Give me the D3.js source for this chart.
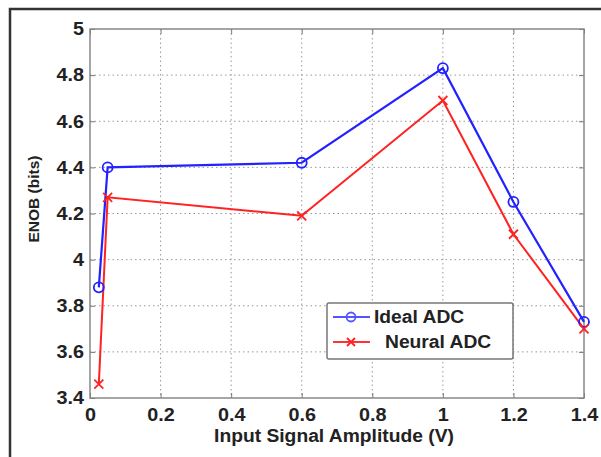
<!DOCTYPE html>
<html><head><meta charset="utf-8">
<script src="https://cdn.jsdelivr.net/npm/d3@7"></script>
<style>body{margin:0;background:#fff}svg{display:block}text{font-family:"Liberation Sans",Arial,sans-serif;font-weight:bold;fill:#222}</style>
</head><body>
<script>
const xValues = [0.025, 0.05, 0.6, 1.0, 1.2, 1.4];
const idealADC = [3.88, 4.40, 4.42, 4.83, 4.25, 3.73];
const neuralADC = [3.46, 4.27, 4.19, 4.69, 4.11, 3.70];
const xTicks = [0, 0.2, 0.4, 0.6, 0.8, 1, 1.2, 1.4];
const yTicks = [3.4, 3.6, 3.8, 4, 4.2, 4.4, 4.6, 4.8, 5];
const seriesNames = ["Ideal ADC", "Neural ADC"];

const W = 601, H = 457;
const L = 90, R = 584, T = 29, B = 398;
const svg = d3.select("body").append("svg").attr("width", W).attr("height", H);
// outer frame
svg.append("path").attr("d", `M10,${H} L10,9 L${W},9`).attr("fill","none").attr("stroke","#333").attr("stroke-width",2.5);

const x = d3.scaleLinear().domain([0, 1.4]).range([L, R]);
const y = d3.scaleLinear().domain([3.4, 5]).range([B, T]);

const stretch = (sel, k) => sel.each(function () {
  const len = this.getComputedTextLength();
  d3.select(this).attr("textLength", len * k).attr("lengthAdjust", "spacingAndGlyphs");
});

const g = svg.append("g");
// grid
g.selectAll(".vg").data(xTicks.slice(1, -1)).enter().append("line")
  .attr("x1", d => x(d)).attr("x2", d => x(d)).attr("y1", T).attr("y2", B)
  .attr("stroke", "#999").attr("stroke-width", 1).attr("stroke-dasharray", "1.5,3");
g.selectAll(".hg").data(yTicks.slice(1, -1)).enter().append("line")
  .attr("y1", d => y(d)).attr("y2", d => y(d)).attr("x1", L).attr("x2", R)
  .attr("stroke", "#999").attr("stroke-width", 1).attr("stroke-dasharray", "1.5,3");

// axes
const xAxis = d3.axisBottom(x).tickValues(xTicks).tickFormat(d3.format("")).tickSize(-5).tickPadding(10);
const yAxis = d3.axisLeft(y).tickValues(yTicks).tickFormat(d3.format("")).tickSize(-5).tickPadding(6);
const xa = svg.append("g").attr("transform", `translate(0,${B})`).call(xAxis);
const ya = svg.append("g").attr("transform", `translate(${L},0)`).call(yAxis);
[xa, ya].forEach(a => {
  a.select(".domain").remove();
  a.selectAll("line").attr("stroke", "#777");
  a.selectAll("text").style("font-size", "18px").attr("fill", "#222").call(stretch, 1.1);
});
// top and right ticks
svg.append("g").attr("transform", `translate(0,${T})`).call(d3.axisTop(x).tickValues(xTicks).tickSize(-5).tickFormat(""))
  .call(a => { a.select(".domain").remove(); a.selectAll("line").attr("stroke", "#777"); });
svg.append("g").attr("transform", `translate(${R},0)`).call(d3.axisRight(y).tickValues(yTicks).tickSize(-5).tickFormat(""))
  .call(a => { a.select(".domain").remove(); a.selectAll("line").attr("stroke", "#777"); });
// plot border
svg.append("rect").attr("x", L).attr("y", T).attr("width", R - L).attr("height", B - T)
  .attr("fill", "none").attr("stroke", "#888").attr("stroke-width", 1.5);

// labels
svg.append("text").attr("x", 334).attr("y", 442).attr("text-anchor", "middle")
  .style("font-size", "17.5px").text("Input Signal Amplitude (V)").call(stretch, 1.1);
svg.append("text").attr("transform", "translate(39,199) rotate(-90)").attr("text-anchor", "middle")
  .style("font-size", "15.5px").text("ENOB (bits)");

// series
const line = d3.line().x(d => x(d[0])).y(d => y(d[1]));
const ideal = xValues.map((v, i) => [v, idealADC[i]]);
const neural = xValues.map((v, i) => [v, neuralADC[i]]);
svg.append("path").datum(ideal).attr("d", line).attr("fill", "none").attr("stroke", "#2222ff").attr("stroke-width", 2.2);
svg.append("path").datum(neural).attr("d", line).attr("fill", "none").attr("stroke", "#ff2222").attr("stroke-width", 2);
svg.selectAll(".ci").data(ideal).enter().append("circle")
  .attr("cx", d => x(d[0])).attr("cy", d => y(d[1])).attr("r", 5)
  .attr("fill", "none").attr("stroke", "#2222ff").attr("stroke-width", 1.8);
const cross = (sel, cx, cy, s) => {
  sel.append("path").attr("d", `M${cx - s},${cy - s}L${cx + s},${cy + s}M${cx - s},${cy + s}L${cx + s},${cy - s}`)
    .attr("stroke", "#ff2222").attr("stroke-width", 1.8);
};
neural.forEach(d => cross(svg, x(d[0]), y(d[1]), 4.5));

// legend
const lg = svg.append("g");
lg.append("rect").attr("x", 327).attr("y", 303).attr("width", 186).attr("height", 56).attr("rx", 2)
  .attr("fill", "#fff").attr("stroke", "#777").attr("stroke-width", 1.5);
lg.append("line").attr("x1", 333).attr("x2", 370).attr("y1", 317).attr("y2", 317).attr("stroke", "#5555ff").attr("stroke-width", 2);
lg.append("circle").attr("cx", 351).attr("cy", 317).attr("r", 4.5).attr("fill", "none").attr("stroke", "#5555ff").attr("stroke-width", 1.8);
lg.append("line").attr("x1", 333).attr("x2", 370).attr("y1", 342).attr("y2", 342).attr("stroke", "#ff3333").attr("stroke-width", 2);
cross(lg, 351, 342, 4);
lg.append("text").attr("x", 374).attr("y", 323).style("font-size", "17.5px").text(seriesNames[0]).call(stretch, 1.1);
lg.append("text").attr("x", 385).attr("y", 348).style("font-size", "17.5px").text(seriesNames[1]).call(stretch, 1.1);
</script>
</body></html>
